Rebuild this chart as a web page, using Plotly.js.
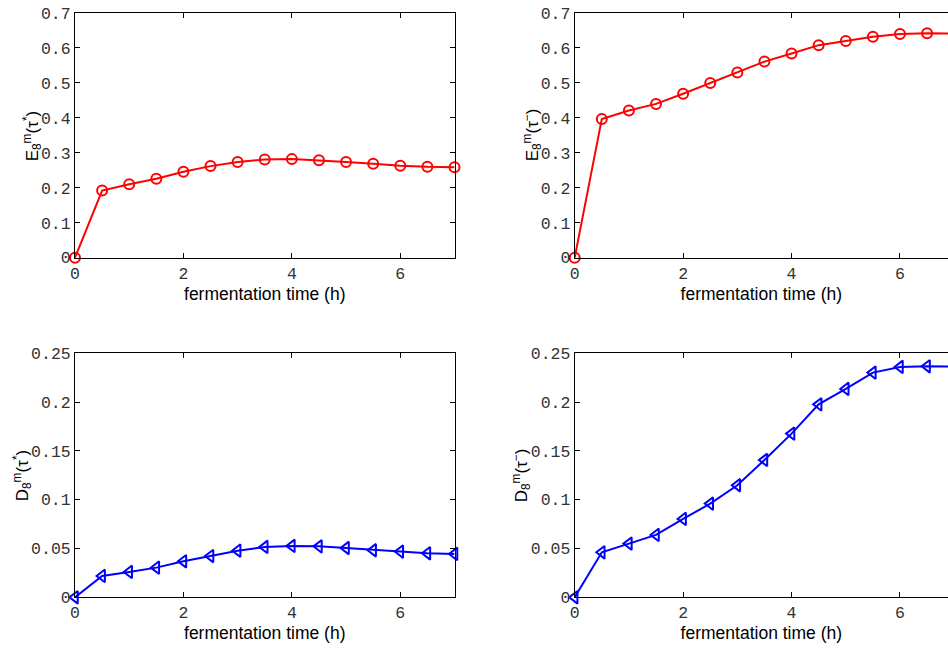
<!DOCTYPE html>
<html>
<head>
<meta charset="utf-8">
<script src="https://cdn.plot.ly/plotly-3.0.1.min.js"></script>
<style>html,body{margin:0;padding:0;background:#fff;}#chart{width:948px;height:650px;}</style>
</head>
<body>
<div id="chart"></div>
<script>
const timeH = [0, 0.5, 1, 1.5, 2, 2.5, 3, 3.5, 4, 4.5, 5, 5.5, 6, 6.5, 7];
const eStar = [0, 0.192, 0.210, 0.226, 0.246, 0.262, 0.274, 0.281, 0.282, 0.279, 0.274, 0.269, 0.263, 0.260, 0.259];
const eMinus = [0, 0.397, 0.421, 0.440, 0.469, 0.500, 0.530, 0.561, 0.584, 0.608, 0.620, 0.632, 0.640, 0.642, 0.641];
const dStar = [0, 0.0219, 0.0260, 0.0304, 0.0369, 0.0423, 0.0478, 0.0516, 0.0526, 0.0522, 0.0505, 0.0482, 0.0468, 0.0451, 0.0444];
const dMinus = [0, 0.0461, 0.0550, 0.0639, 0.0803, 0.0960, 0.1148, 0.1407, 0.1677, 0.1977, 0.2135, 0.2302, 0.2360, 0.2367, 0.2363];

const xTickVals = [0, 2, 4, 6];
const xTickText = ['0', '2', '4', '6'];
const eTickVals = [0, 0.1, 0.2, 0.3, 0.4, 0.5, 0.6, 0.7];
const eTickText = ['0', '0.1', '0.2', '0.3', '0.4', '0.5', '0.6', '0.7'];
const dTickVals = [0, 0.05, 0.1, 0.15, 0.2, 0.25];
const dTickText = ['0', '0.05', '0.1', '0.15', '0.2', '0.25'];

const xTitle = 'fermentation time (h)';
const yTitles = [
  'E<sub>8</sub><sup>m</sup>(τ<sup>*</sup>)',
  'E<sub>8</sub><sup>m</sup>(τ<sup>−</sup>)',
  'D<sub>8</sub><sup>m</sup>(τ<sup>*</sup>)',
  'D<sub>8</sub><sup>m</sup>(τ<sup>−</sup>)'
];

const W = 948, H = 650;
const tickFont = {family: 'Liberation Mono, DejaVu Sans Mono, monospace', size: 16.5, color: '#333'};
const titleFont = {family: 'Liberation Sans, Arial, sans-serif', size: 17.5, color: '#000'};
const yTitleFont = {family: 'Liberation Sans, Arial, sans-serif', size: 17, color: '#000'};

const redLine = {color: '#ff0000', width: 2};
const blueLine = {color: '#0000ff', width: 2};

const traces = [
  {x: timeH, y: eStar, xaxis: 'x', yaxis: 'y', mode: 'lines+markers', line: redLine, cliponaxis: false,
   marker: {symbol: 'circle-open', size: 10, color: '#ff0000', line: {width: 2}}},
  {x: timeH, y: eMinus, xaxis: 'x2', yaxis: 'y2', mode: 'lines+markers', line: redLine, cliponaxis: false,
   marker: {symbol: 'circle-open', size: 10, color: '#ff0000', line: {width: 2}}},
  {x: timeH, y: dStar, xaxis: 'x3', yaxis: 'y3', mode: 'lines+markers', line: blueLine, cliponaxis: false,
   marker: {symbol: 'triangle-left-open', size: 11, color: '#0000ff', line: {width: 2}}},
  {x: timeH, y: dMinus, xaxis: 'x4', yaxis: 'y4', mode: 'lines+markers', line: blueLine, cliponaxis: false,
   marker: {symbol: 'triangle-left-open', size: 11, color: '#0000ff', line: {width: 2}}}
];

const leftDom = [75 / W, 454.5 / W];
const rightDom = [574.7 / W, 1];
const topDom = [1 - 257.7 / H, 1 - 13 / H];
const botDom = [1 - 597.3 / H, 1 - 353.3 / H];

function xAx(dom, anchor, range) {
  return {domain: dom, anchor: anchor, range: range, tickvals: xTickVals, ticktext: xTickText,
    ticks: 'inside', ticklen: 5, tickcolor: '#000', showline: true, linecolor: '#000', linewidth: 1,
    mirror: 'ticks', showgrid: false, zeroline: false, tickfont: tickFont,
    title: {text: xTitle, font: titleFont, standoff: 4}};
}
function yAx(dom, anchor, range, vals, text, mirror) {
  return {domain: dom, anchor: anchor, range: range, tickvals: vals, ticktext: text,
    ticks: 'inside', ticklen: 5, tickcolor: '#000', showline: true, linecolor: '#000', linewidth: 1,
    mirror: mirror, showgrid: false, zeroline: false, tickfont: tickFont};
}

const rightRange = [0, (W - 574.7) / ((454.5 - 75) / 7)];

const layout = {
  width: W, height: H, showlegend: false,
  margin: {l: 0, r: 0, t: 0, b: 0},
  paper_bgcolor: '#fff', plot_bgcolor: '#fff',
  xaxis: xAx(leftDom, 'y', [0, 7]),
  yaxis: yAx(topDom, 'x', [0, 0.7], eTickVals, eTickText, 'ticks'),
  xaxis2: xAx(rightDom, 'y2', rightRange),
  yaxis2: yAx(topDom, 'x2', [0, 0.7], eTickVals, eTickText, false),
  xaxis3: xAx(leftDom, 'y3', [0, 7]),
  yaxis3: yAx(botDom, 'x3', [0, 0.25], dTickVals, dTickText, 'ticks'),
  xaxis4: xAx(rightDom, 'y4', rightRange),
  yaxis4: yAx(botDom, 'x4', [0, 0.25], dTickVals, dTickText, false),
  annotations: [
    {text: yTitles[0], x: 32 / W, y: (topDom[0] + topDom[1]) / 2},
    {text: yTitles[1], x: 532 / W, y: (topDom[0] + topDom[1]) / 2},
    {text: yTitles[2], x: 22 / W, y: (botDom[0] + botDom[1]) / 2},
    {text: yTitles[3], x: 521 / W, y: (botDom[0] + botDom[1]) / 2}
  ].map(a => Object.assign(a, {xref: 'paper', yref: 'paper', showarrow: false, textangle: -90,
    xanchor: 'center', yanchor: 'middle', font: yTitleFont}))
};

Plotly.newPlot('chart', traces, layout, {displayModeBar: false, staticPlot: true});
</script>
</body>
</html>
